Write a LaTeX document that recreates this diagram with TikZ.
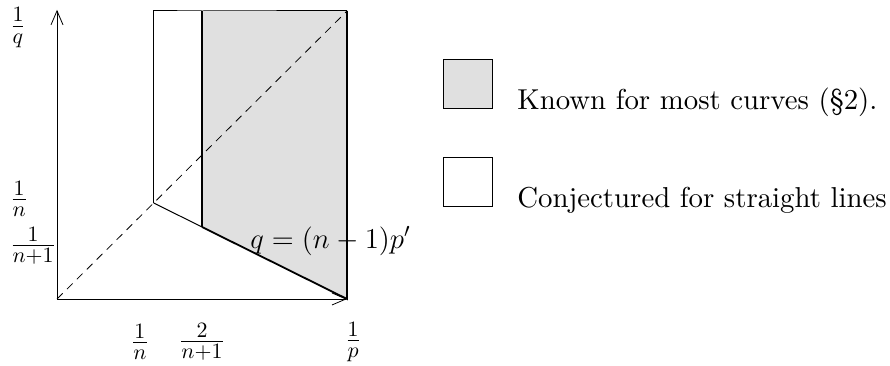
\documentclass[tikz,border=0pt]{standalone}
\usepackage{fontspec}
\newfontfamily\keyfont{lmroman10-regular}[Extension=.otf]
\usetikzlibrary{arrows.meta}
\definecolor{knowngray}{gray}{0.88}
\begin{document}
\begin{tikzpicture}[font=\fontsize{14.4}{17}\selectfont,x=145pt,y=144pt,
 axisarrow/.style={line width=.4pt,-{Straight Barb[length=7pt,width=6pt]}},
 openline/.style={line width=.5pt},
 knownline/.style={line width=.9pt},
 ticklab/.style={font=\fontsize{15}{18}\selectfont},
 keybox/.style={draw,line width=.5pt,minimum size=24.5pt,inner sep=0pt,anchor=north west},
 keytext/.style={font=\fontsize{14.4}{17}\keyfont,anchor=base west,inner sep=0pt}]
\useasboundingbox (-.1966,-.2292) rectangle (2.8724,1.0382);
\coordinate (O) at (0,0);
\coordinate (P) at (1,0);
\coordinate (Q) at (0,1.004);
\coordinate (C) at (1/3,1/3);
\coordinate (L) at (1/3,1);
\coordinate (M) at (.5,1);
\coordinate (T) at (1,1);
\coordinate (B) at (.5,.25);
\fill[knowngray] (M) -- (T) -- (P) -- (B) -- cycle;
\draw[line width=.4pt,dash pattern=on 4pt off 3pt] (O) -- (T);
\draw[axisarrow] (O) -- (Q);
\draw[axisarrow] (O) -- (P);
\draw[openline] (C) -- (L) -- (M) -- (T);
\draw[openline] (C) -- (B);
\draw[knownline] (B) -- (M);
\draw[knownline] (T) -- (P) -- (B);
\foreach \x/\lab/\nm in {.286/\frac{1}{n}/xn,.5/\frac{2}{n+1}/xnn,1.021/\frac{1}{p}/xp}{\node[ticklab] (\nm) at (\x,-.149) {$\lab$};}
\foreach \y/\lab/\nm in {.942/\frac{1}{q}/yq,.347/\frac{1}{n}/yn,.184/\frac{1}{n+1}/ynn}{\node[ticklab,anchor=west,inner sep=0pt] (\nm) at (-.163,\y) {$\lab$};}
\node[anchor=base west,inner sep=0pt] (rel) at (.6655,.177) {$q=(n-1)p'$};
% legend
\node[keybox,fill=knowngray] (knownbox) at (1.331,.833) {};
\node[keytext] (knowntext) at ([xshift=12pt]knownbox.south east) {Known for most curves (§2).};
\node[keybox] (conjbox) at (1.331,.493) {};
\node[keytext] (conjtext) at ([xshift=12pt]conjbox.south east) {Conjectured for straight lines};
\end{tikzpicture}
\end{document}
